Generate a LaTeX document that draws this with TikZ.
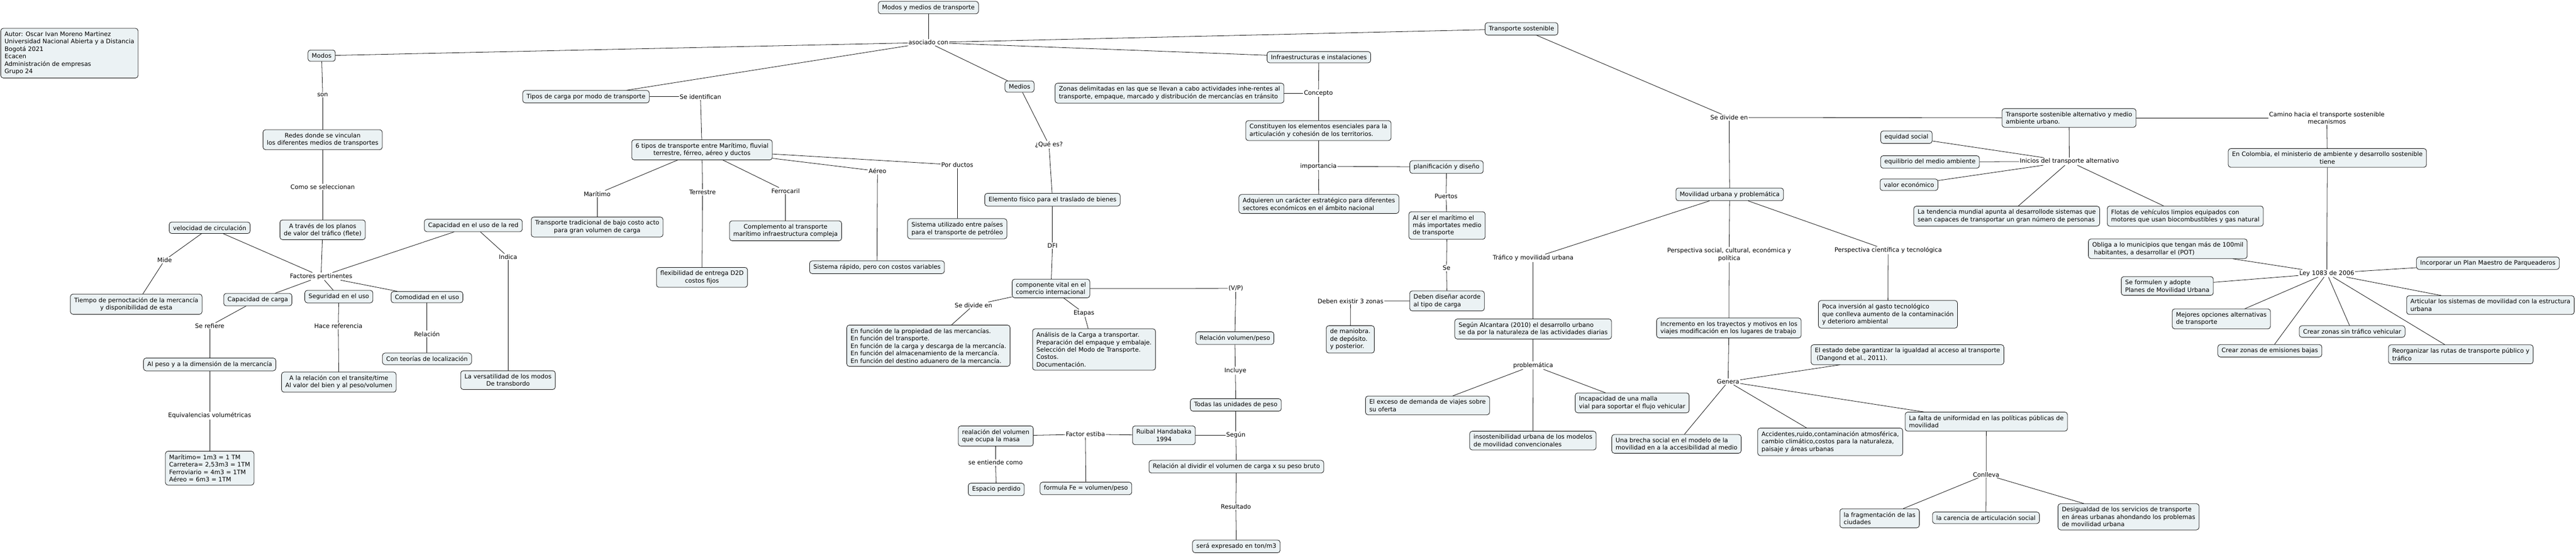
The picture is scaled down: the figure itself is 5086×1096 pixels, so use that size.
\documentclass[tikz,border=0pt]{standalone}
\usepackage{fontspec}
\setmainfont{DejaVu Sans}
\definecolor{boxfill}{RGB}{235,242,244}
\tikzset{
  box/.style={draw=black, line width=0.8pt, fill=boxfill, rounded corners=5pt,
    inner xsep=7.5pt, inner ysep=6.5pt, font=\fontsize{12pt}{14.7pt}\selectfont, align=center},
  lbox/.style={box, align=left},
  lab/.style={inner sep=1.5pt, font=\fontsize{12pt}{14.7pt}\selectfont, align=center},
  conn/.style={draw=black, line width=0.8pt}
}
\begin{document}
\begin{tikzpicture}[x=1pt,y=-1pt]
\fill[white] (0,0) rectangle (5086,1096);
\useasboundingbox (0,0) rectangle (5086,1096);

% ---------- boxes ----------
\node[lbox] (autor) at (137,105) {Autor: Oscar Ivan Moreno Martinez\\Universidad Nacional Abierta y a Distancia\\Bogotá 2021\\Ecacen\\Administración de empresas\\Grupo 24};
\node[box] (modos) at (635,110) {Modos};
\node[box] (redes) at (637,276) {Redes donde se vinculan\\los diferentes medios de transportes};
\node[box] (atraves) at (637,454) {A través de los planos\\de valor del tráfico (flete)};
\node[box] (velocidad) at (414,450) {velocidad de circulación};
\node[box] (tiempo) at (269,601) {Tiempo de pernoctación de la mercancía\\y disponibilidad de esta};
\node[box] (capcarga) at (509,592) {Capacidad de carga};
\node[box] (seguridad) at (669,586) {Seguridad en el uso};
\node[box] (comodidad) at (843,587) {Comodidad en el uso};
\node[box] (alpeso) at (414,720) {Al peso y a la dimensión de la mercancía};
\node[lbox] (maritimo) at (414,925) {Marítimo= 1m3 = 1 TM\\Carretera= 2,53m3 = 1TM\\Ferroviario = 4m3 = 1TM\\Aéreo = 6m3 = 1TM};
\node[box] (relacion) at (669,755) {A la relación con el transite/time\\Al valor del bien y al peso/volumen};
\node[box] (teorias) at (843,709) {Con teorías de localización};
\node[box] (capred) at (934.5,445.5) {Capacidad en el uso de la red};
\node[box] (versatilidad) at (1003,751) {La versatilidad de los modos\\De transbordo};
\node[box] (tipos) at (1157,191) {Tipos de carga por modo de transporte};
\node[box] (seis) at (1386,296) {6 tipos de transporte entre Marítimo, fluvial\\terrestre, férreo, aéreo y ductos};
\node[box] (tradicional) at (1179,448.5) {Transporte tradicional de bajo costo acto\\para gran volumen de carga};
\node[box] (complemento) at (1551,456) {Complemento al transporte\\marítimo infraestructura compleja};
\node[box] (flexibilidad) at (1386,548) {flexibilidad de entrega D2D\\costos fijos};
\node[box] (rapido) at (1731.5,528) {Sistema rápido, pero con costos variables};
\node[box] (modosmedios) at (1833,15) {Modos y medios de transporte};
\node[box] (medios) at (2013,171) {Medios};
\node[lbox] (zonas) at (2309,184) {Zonas delimitadas en las que se llevan a cabo actividades inhe-rentes al\\transporte, empaque, marcado y distribución de mercancías en tránsito};
\node[box] (elemento) at (2078,394.5) {Elemento físico para el traslado de bienes};
\node[lbox] (ductosbox) at (1890,452) {Sistema utilizado entre países\\para el transporte de petróleo};
\node[lbox] (componente) at (2075,570) {componente vital en el\\comercio internacional};
\node[lbox] (funcion) at (1833,683) {En función de la propiedad de las mercancías.\\En función del transporte.\\En función de la carga y descarga de la mercancía.\\En función del almacenamiento de la mercancía.\\En función del destino aduanero de la mercancía.};
\node[lbox] (analisis) at (2160,690.5) {Análisis de la Carga a transportar.\\Preparación del empaque y embalaje.\\Selección del Modo de Transporte.\\Costos.\\Documentación.};
\node[box] (relvolpeso) at (2438,668) {Relación volumen/peso};
\node[box] (todas) at (2440,800) {Todas las unidades de peso};
\node[box] (ruibal) at (2298,860) {Ruibal Handabaka\\1994};
\node[lbox] (realacion) at (1966,861.5) {realación del volumen\\que ocupa la masa};
\node[box] (espacio) at (1967,967) {Espacio perdido};
\node[box] (formula) at (2144,965) {formula Fe = volumen/peso};
\node[box] (dividir) at (2441,922) {Relación al dividir el volumen de carga x su peso bruto};
\node[box] (expresado) at (2441,1079.5) {será expresado en ton/m3};
\node[box] (tsost) at (3004,57) {Transporte sostenible};
\node[box] (infra) at (2604,113) {Infraestructuras e instalaciones};
\node[lbox] (constituyen) at (2603,258) {Constituyen los elementos esenciales para la\\articulación y cohesión de los territorios.};
\node[box] (planif) at (2856,330) {planificación y diseño};
\node[lbox] (adquieren) at (2604,403) {Adquieren un carácter estratégico para diferentes\\sectores económicos en el ámbito nacional};
\node[lbox] (alser) at (2857,445.5) {Al ser el marítimo el\\más importates medio\\de transporte};
\node[lbox] (disenar) at (2857,594.5) {Deben diseñar acorde\\al tipo de carga};
\node[lbox] (maniobra) at (2666,670.5) {de maniobra.\\de depósito.\\y posterior.};
\node[lbox] (alcantara) at (3027,650) {Según Alcantara (2010) el desarrollo urbano\\se da por la naturaleza de las actividades diarias};
\node[lbox] (exceso) at (2818.5,801) {El exceso de demanda de viajes sobre\\su oferta};
\node[lbox] (incapacidad) at (3222.5,796) {Incapacidad de una malla\\vial para soportar el flujo vehicular};
\node[lbox] (insost) at (3026.5,870.5) {insostenibilidad urbana de los modelos\\de movilidad convencionales};
\node[box] (movilidad) at (3415,384) {Movilidad urbana y problemática};
\node[lbox] (incremento) at (3413.5,648) {Incremento en los trayectos y motivos en los\\viajes modificación en los lugares de trabajo};
\node[lbox] (brecha) at (3310,877) {Una brecha social en el modelo de la\\movilidad en a la accesibilidad al medio};
\node[lbox] (tsa) at (4085,233) {Transporte sostenible alternativo y medio\\ambiente urbano.};
\node[box] (equidad) at (3764,271) {equidad social};
\node[box] (equilibrio) at (3810.5,320) {equilibrio del medio ambiente};
\node[box] (valor) at (3769,365) {valor económico};
\node[lbox] (tendencia) at (3962,427) {La tendencia mundial apunta al desarrollode sistemas que\\sean capaces de transportar un gran número de personas};
\node[lbox] (flotas) at (4314.5,427) {Flotas de vehículos limpios equipados con\\motores que usan biocombustibles y gas natural};
\node[lbox] (obliga) at (4280,491.5) {Obliga a lo municipios que tengan más de 100mil\\\hspace*{3.5pt}habitantes, a desarrollar el (POT)};
\node[lbox] (formulen) at (4279,565) {Se formulen y adopte\\Planes de Movilidad Urbana};
\node[lbox] (poca) at (3727.5,621) {Poca inversión al gasto tecnológico\\que conlleva aumento de la contaminación\\y deterioro ambiental};
\node[lbox] (estado) at (3766,700.7) {El estado debe garantizar la igualdad al acceso al transporte\\\hspace*{3.5pt}(Dangond et al., 2011).};
\node[lbox] (accidentes) at (3613.5,873) {Accidentes,ruido,contaminación atmosférica,\\cambio climático,costos para la naturaleza,\\paisaje y áreas urbanas};
\node[lbox] (falta) at (3921.7,833) {La falta de uniformidad en las políticas públicas de\\movilidad};
\node[lbox] (fragmentacion) at (3711,1024) {la fragmentación de las\\ciudades};
\node[box] (carencia) at (3921,1023) {la carencia de articulación social};
\node[lbox] (desigualdad) at (4202.5,1021) {Desigualdad de los servicios de transporte\\en áreas urbanas ahondando los problemas\\de movilidad urbana};
\node[box] (colombia) at (4595,312) {En Colombia, el ministerio de ambiente y desarrollo sostenible\\tiene};
\node[box] (incorporar) at (4912,520) {Incorporar un Plan Maestro de Parqueaderos};
\node[lbox] (mejores) at (4385.7,630) {Mejores opciones alternativas\\de transporte};
\node[lbox] (articular) at (4917,602.7) {Articular los sistemas de movilidad con la estructura\\urbana};
\node[box] (sintrafico) at (4644,655) {Crear zonas sin tráfico vehicular};
\node[box] (emisiones) at (4481.5,693) {Crear zonas de emisiones bajas};
\node[lbox] (reorganizar) at (4858.5,700) {Reorganizar las rutas de transporte público y\\tráfico};

% ---------- linking phrases ----------
\node[lab] (lson) at (637,187) {son};
\node[lab] (lcomo) at (637,369.5) {Como se seleccionan};
\node[lab] (lmide) at (325,514) {Mide};
\node[lab] (lfactores) at (634,546) {Factores pertinentes};
\node[lab] (lserefiere) at (414,644) {Se refiere};
\node[lab] (lequiv) at (414,821) {Equivalencias volumétricas};
\node[lab] (lhace) at (668,644) {Hace referencia};
\node[lab] (lrelacion) at (843,660) {Relación};
\node[lab] (lindica) at (1003,507.5) {Indica};
\node[lab] (lasociado) at (1833,84) {asociado con};
\node[lab] (lidentifican) at (1383,191) {Se identifican};
\node[lab] (lmaritimo) at (1179,383) {Marítimo};
\node[lab] (lterrestre) at (1387,380) {Terrestre};
\node[lab] (lferrocaril) at (1551,377) {Ferrocaril};
\node[lab] (laereo) at (1732.5,338) {Aéreo};
\node[lab] (lductos) at (1890,326) {Por ductos};
\node[lab] (lquees) at (2071,286) {¿Qué es?};
\node[lab] (ldfi) at (2078,485) {DFI};
\node[lab] (lsedivide) at (1922,603) {Se divide en};
\node[lab] (letapas) at (2140,618.6) {Etapas};
\node[lab] (lvp) at (2440,569.7) {(V/P)};
\node[lab] (lincluye) at (2439,732.5) {Incluye};
\node[lab] (lsegun) at (2440,860) {Según};
\node[lab] (lestiba) at (2143,858) {Factor estiba};
\node[lab] (lentiende) at (1965.6,914) {se entiende como};
\node[lab] (lresultado) at (2440,1001) {Resultado};
\node[lab] (lconcepto) at (2603,184) {Concepto};
\node[lab] (limportancia) at (2603,328.5) {importancia};
\node[lab] (lpuertos) at (2855,388) {Puertos};
\node[lab] (lse) at (2856,529.5) {Se};
\node[lab] (lzonas) at (2666.5,595) {Deben existir 3 zonas};
\node[lab] (ltrafico) at (3027,510) {Tráfico y movilidad urbana};
\node[lab] (lproblematica) at (3027,722) {problemática};
\node[lab] (ldivide2) at (3414,232) {Se divide en};
\node[lab] (lsocial) at (3414,503) {Perspectiva social, cultural, económica y\\política};
\node[lab] (lcientifica) at (3728,494.6) {Perspectiva científica y tecnológica};
\node[lab] (lgenera) at (3412,754) {Genera};
\node[lab] (linicios) at (4085.6,319) {Inicios del transporte alternativo};
\node[lab] (lconlleva) at (3921.4,937.7) {Conlleva};
\node[lab] (lcamino) at (4594,233) {Camino hacia el transporte sostenible\\mecanismos};
\node[lab] (lley) at (4594,540) {Ley 1083 de 2006};

% ---------- connectors ----------
\foreach \a/\b in {
  modosmedios/lasociado, lasociado/modos, lasociado/tipos, lasociado/medios,
  lasociado/infra, lasociado/tsost,
  modos/lson, lson/redes, redes/lcomo, lcomo/atraves, atraves/lfactores,
  velocidad/lfactores, capred/lfactores, lfactores/capcarga, lfactores/seguridad,
  lfactores/comodidad, velocidad/lmide, lmide/tiempo,
  capcarga/lserefiere, lserefiere/alpeso, alpeso/lequiv, lequiv/maritimo,
  seguridad/lhace, lhace/relacion, comodidad/lrelacion, lrelacion/teorias,
  capred/lindica, lindica/versatilidad,
  tipos/lidentifican, lidentifican/seis,
  seis/lmaritimo, lmaritimo/tradicional, seis/lterrestre, lterrestre/flexibilidad,
  seis/lferrocaril, lferrocaril/complemento, seis/laereo, laereo/rapido,
  seis/lductos, lductos/ductosbox,
  medios/lquees, lquees/elemento, elemento/ldfi, ldfi/componente,
  componente/lsedivide, lsedivide/funcion, componente/letapas, letapas/analisis,
  componente/lvp, lvp/relvolpeso, relvolpeso/lincluye, lincluye/todas,
  todas/lsegun, lsegun/dividir, dividir/lresultado, lresultado/expresado,
  ruibal/lsegun, realacion/lestiba, lestiba/ruibal, lestiba/formula,
  realacion/lentiende, lentiende/espacio,
  infra/lconcepto, lconcepto/constituyen, zonas/lconcepto,
  constituyen/limportancia, limportancia/adquieren, limportancia/planif,
  planif/lpuertos, lpuertos/alser, alser/lse, lse/disenar,
  disenar/lzonas, lzonas/maniobra,
  tsost/ldivide2, ldivide2/movilidad, ldivide2/tsa,
  movilidad/ltrafico, ltrafico/alcantara, alcantara/lproblematica,
  lproblematica/exceso, lproblematica/incapacidad, lproblematica/insost,
  movilidad/lsocial, lsocial/incremento, incremento/lgenera,
  lgenera/brecha, lgenera/estado, lgenera/accidentes, lgenera/falta,
  movilidad/lcientifica, lcientifica/poca,
  tsa/linicios, linicios/equidad, linicios/equilibrio, linicios/valor,
  linicios/tendencia, linicios/flotas,
  tsa/lcamino, lcamino/colombia, colombia/lley,
  lley/obliga, lley/formulen, lley/mejores, lley/emisiones, lley/sintrafico,
  lley/reorganizar, lley/articular, lley/incorporar,
  falta/lconlleva, lconlleva/fragmentacion, lconlleva/carencia, lconlleva/desigualdad}
  {\draw[conn] (\a) -- (\b);}
\end{tikzpicture}
\end{document}
